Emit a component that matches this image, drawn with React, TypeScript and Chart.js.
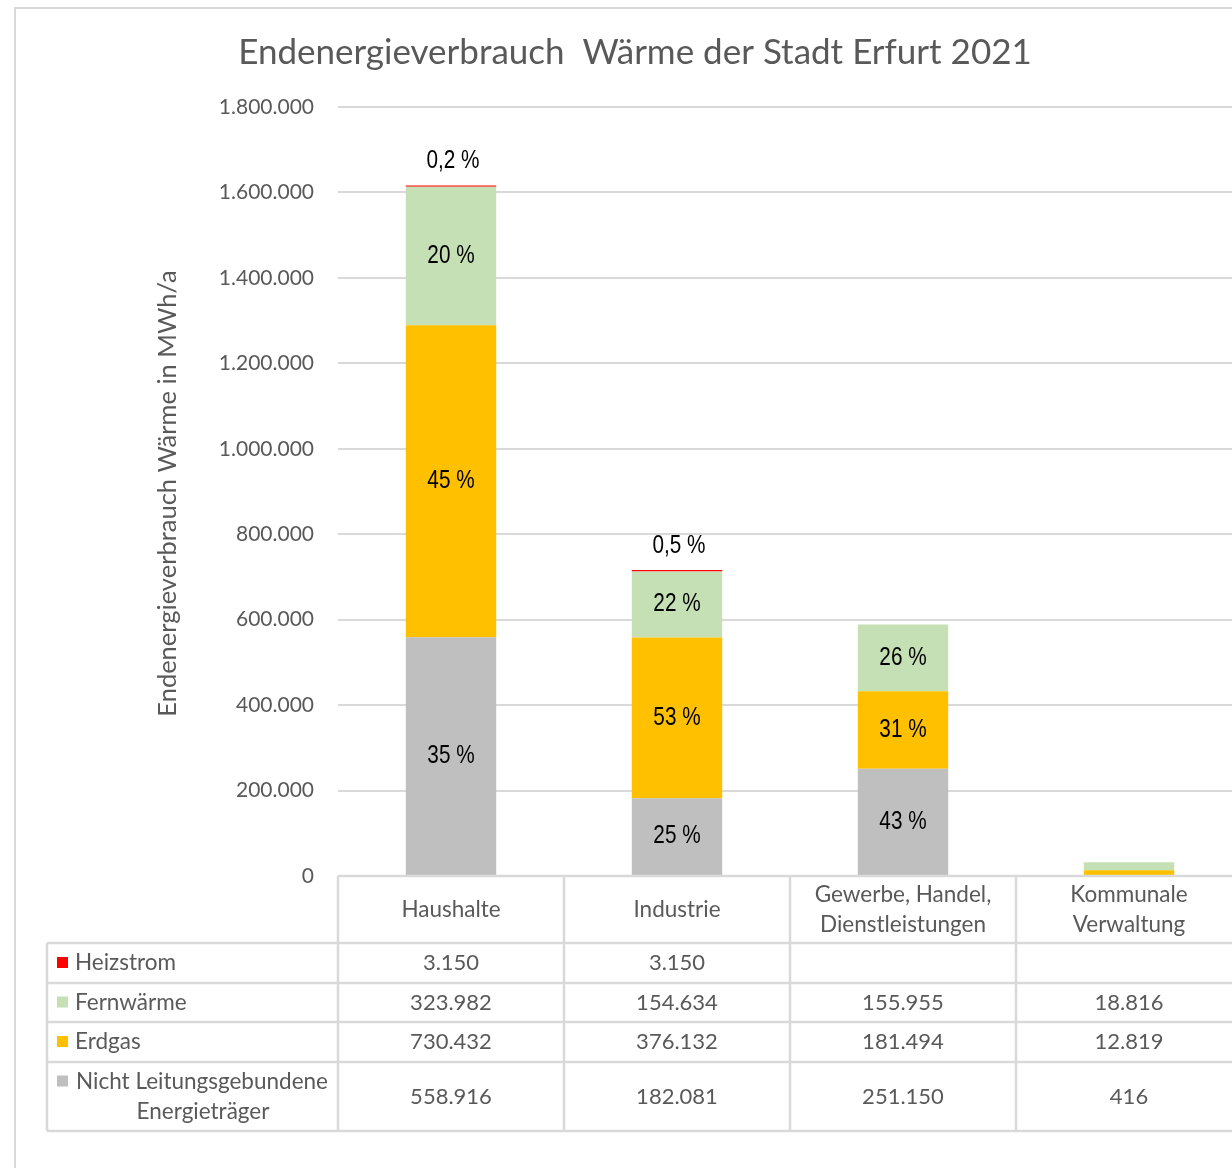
import React, { useEffect, useRef } from "react";
import { Chart, registerables } from "chart.js";
Chart.register(...registerables);

const chartTitle = "Endenergieverbrauch  Wärme der Stadt Erfurt 2021";
const yAxisTitle = "Endenergieverbrauch Wärme in MWh/a";
const categories = [["Haushalte"], ["Industrie"], ["Gewerbe, Handel,", "Dienstleistungen"], ["Kommunale", "Verwaltung"]];

const nichtLeitung = [558916, 182081, 251150, 416];
const erdgas = [730432, 376132, 181494, 12819];
const fernwaerme = [323982, 154634, 155955, 18816];
const heizstrom = [3150, 3150, null, null];

const labelsNicht = ["35 %", "25 %", "43 %", ""];
const labelsErdgas = ["45 %", "53 %", "31 %", ""];
const labelsFern = ["20 %", "22 %", "26 %", ""];
const labelsHeiz = ["0,2 %", "0,5 %", "", ""];

const yMax = 1800000;
const yStep = 200000;

const COLORS = { heiz: "#ff0000", fern: "#c5e0b4", erd: "#ffc000", nicht: "#bfbfbf" };
const TEXT = "#595959";
const LINE = "#d9d9d9";
const UI_FONT = '"Lato", "Noto Sans", sans-serif';
const LBL_FONT = '"Liberation Sans", "Arial", sans-serif';

function fmt(v: number | null): string {
  if (v === null || v === undefined) return "";
  return String(Math.round(v)).replace(/\B(?=(\d{3})+(?!\d))/g, ".");
}

// table rows top-to-bottom
const tableRows = [
  { name: ["Heizstrom"], color: COLORS.heiz, values: heizstrom },
  { name: ["Fernwärme"], color: COLORS.fern, values: fernwaerme },
  { name: ["Erdgas"], color: COLORS.erd, values: erdgas },
  { name: ["Nicht Leitungsgebundene", "Energieträger"], color: COLORS.nicht, values: nichtLeitung },
];

function narrowText(ctx: CanvasRenderingContext2D, t: string, x: number, y: number) {
  ctx.save();
  ctx.translate(x, y);
  ctx.scale(0.83, 1);
  ctx.fillText(t, 0, 0);
  ctx.restore();
}

export default function App() {
  const ref = useRef<HTMLCanvasElement | null>(null);
  useEffect(() => {
    const canvas = ref.current!;
    const overlay = {
      id: "overlay",
      afterDraw(chart: any) {
        const ctx = chart.ctx as CanvasRenderingContext2D;
        const ca = chart.chartArea;
        const xs = chart.scales.x;
        ctx.save();
        // outer frame
        ctx.strokeStyle = LINE;
        ctx.lineWidth = 2;
        ctx.beginPath();
        ctx.moveTo(15, 1300);
        ctx.lineTo(15, 8);
        ctx.lineTo(1400, 8);
        ctx.stroke();
        // title
        ctx.fillStyle = TEXT;
        ctx.font = `35px ${UI_FONT}`;
        ctx.textAlign = "center";
        ctx.textBaseline = "middle";
        ctx.fillText(chartTitle, 635, 53);
        // y title
        ctx.save();
        ctx.translate(168, (ca.top + ca.bottom) / 2 + 2);
        ctx.rotate(-Math.PI / 2);
        ctx.font = `25.5px ${UI_FONT}`;
        ctx.fillText(yAxisTitle, 0, 0);
        ctx.restore();

        // percentage labels
        const lblSets = [labelsNicht, labelsErdgas, labelsFern];
        ctx.font = `25px ${LBL_FONT}`;
        ctx.fillStyle = "#000";
        lblSets.forEach((set, di) => {
          const meta = chart.getDatasetMeta(di);
          meta.data.forEach((bar: any, i: number) => {
            if (!set[i]) return;
            narrowText(ctx, set[i], bar.x, (bar.y + bar.base) / 2);
          });
        });
        const hm = chart.getDatasetMeta(3);
        hm.data.forEach((bar: any, i: number) => {
          if (!labelsHeiz[i]) return;
          narrowText(ctx, labelsHeiz[i], bar.x + 2, bar.y - 24);
        });

        // data table
        const n = categories.length;
        const cw = (ca.right - ca.left) / n;
        const tLeft = 47;
        const headerH = 67;
        const rowH = [40, 39, 40, 69];
        const yTop = ca.bottom;
        const yRows: number[] = [yTop + headerH];
        rowH.forEach((h) => yRows.push(yRows[yRows.length - 1] + h));
        const yBottom = yRows[yRows.length - 1];
        ctx.strokeStyle = LINE;
        ctx.lineWidth = 2.5;
        ctx.beginPath();
        ctx.moveTo(ca.left, yTop);
        ctx.lineTo(ca.right + 40, yTop);
        yRows.forEach((yy) => {
          ctx.moveTo(tLeft, yy);
          ctx.lineTo(ca.right + 40, yy);
        });
        ctx.moveTo(tLeft, yRows[0]);
        ctx.lineTo(tLeft, yBottom);
        for (let i = 0; i <= n; i++) {
          const x = ca.left + i * cw;
          ctx.moveTo(x, yTop);
          ctx.lineTo(x, yBottom);
        }
        ctx.stroke();

        ctx.fillStyle = TEXT;
        ctx.font = `22.5px ${UI_FONT}`;
        ctx.textAlign = "center";
        // header
        categories.forEach((lines, i) => {
          const cx = xs.getPixelForValue(i);
          const cy = yTop + headerH / 2;
          const lh = 30;
          lines.forEach((t, k) => {
            ctx.fillText(t, cx, cy + (k - (lines.length - 1) / 2) * lh);
          });
        });
        // rows
        tableRows.forEach((row, r) => {
          const y0 = yRows[r];
          const y1 = yRows[r + 1];
          const cy = (y0 + y1) / 2;
          const lh = 30;
          ctx.fillStyle = row.color;
          const ky = row.name.length > 1 ? cy - lh / 2 : cy;
          ctx.fillRect(57, ky - 6, 11, 11);
          ctx.fillStyle = TEXT;
          if (row.name.length === 1) {
            ctx.textAlign = "left";
            ctx.fillText(row.name[0], 75, cy);
          } else {
            ctx.textAlign = "center";
            ctx.fillText(row.name[0], 202, cy - lh / 2);
            ctx.fillText(row.name[1], 203, cy + lh / 2);
          }
          ctx.textAlign = "center";
          ctx.font = `22px ${UI_FONT}`;
          row.values.forEach((v, i) => {
            ctx.fillText(fmt(v), xs.getPixelForValue(i), cy);
          });
          ctx.font = `22.5px ${UI_FONT}`;
        });
        ctx.restore();
      },
    };

    const chart = new Chart(canvas, {
      type: "bar",
      data: {
        labels: categories.map((c) => c.join(" ")),
        datasets: [
          { label: "Nicht Leitungsgebundene Energieträger", data: nichtLeitung, backgroundColor: COLORS.nicht },
          { label: "Erdgas", data: erdgas, backgroundColor: COLORS.erd },
          { label: "Fernwärme", data: fernwaerme, backgroundColor: COLORS.fern },
          { label: "Heizstrom", data: heizstrom, backgroundColor: COLORS.heiz },
        ],
      },
      options: {
        responsive: false,
        animation: false,
        layout: { padding: { top: 107, bottom: 292, left: 0, right: 18 } },
        datasets: { bar: { barPercentage: 0.4, categoryPercentage: 1, borderWidth: 0 } },
        plugins: { legend: { display: false }, tooltip: { enabled: false }, title: { display: false } },
        scales: {
          x: { stacked: true, display: false },
          y: {
            stacked: true,
            min: 0,
            max: yMax,
            afterFit: (s: any) => {
              s.width = 338;
            },
            border: { display: false },
            grid: { color: LINE, lineWidth: 2, drawTicks: false },
            ticks: {
              stepSize: yStep,
              padding: 24,
              color: TEXT,
              font: { family: UI_FONT, size: 21 },
              callback: (v: any) => fmt(Number(v)),
            },
          },
        },
      },
      plugins: [overlay],
    });
    return () => chart.destroy();
  }, []);
  return (
    <div style={{ position: "absolute", left: 0, top: 0, width: 1232, height: 1168, overflow: "hidden", background: "#fff" }}>
      <canvas ref={ref} width={1260} height={1168} style={{ width: 1260, height: 1168, display: "block" }} />
    </div>
  );
}
